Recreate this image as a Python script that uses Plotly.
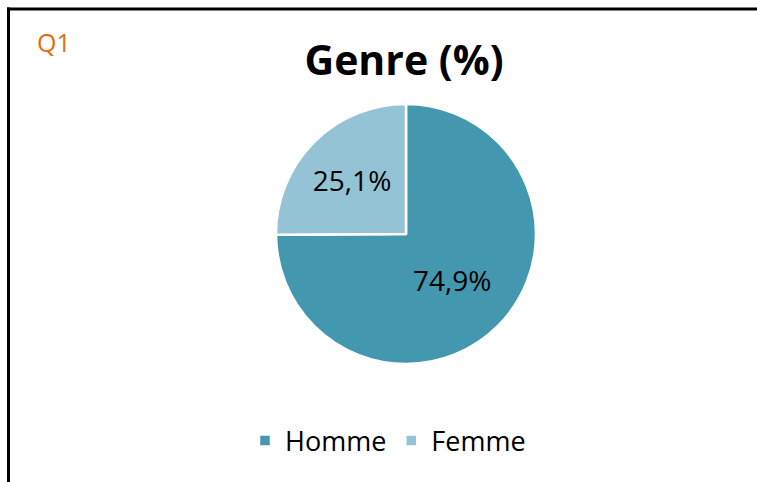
import plotly.graph_objects as go

labels = ["Homme", "Femme"]
values = [74.9, 25.1]
text_labels = ["74,9%", "25,1%"]
colors = ["#4398B0", "#93C3D4"]

W, H = 757, 482

def px(x):
    return x / W

def py(y):
    return 1 - y / H

fig = go.Figure()
fig.add_trace(go.Pie(
    labels=labels,
    values=values,
    text=text_labels,
    textinfo="text",
    textposition="inside",
    insidetextorientation="horizontal",
    textfont=dict(family="Open Sans", size=28, color="#000000"),
    marker=dict(colors=colors, line=dict(color="#FFFFFF", width=2.5)),
    sort=False,
    direction="clockwise",
    rotation=0,
    hoverinfo="label+text",
    domain=dict(x=[px(276), px(536)], y=[py(364), py(104)]),
))

fig.update_layout(
    width=W,
    height=H,
    margin=dict(l=0, r=0, t=0, b=0),
    paper_bgcolor="#FFFFFF",
    plot_bgcolor="#FFFFFF",
    showlegend=True,
    legend=dict(
        orientation="h",
        x=px(388), xanchor="center",
        y=py(441), yanchor="middle",
        font=dict(family="Open Sans", size=27, color="#000000"),
        itemwidth=30,
        tracegroupgap=0,
    ),
    title=dict(
        text="<b>Genre (%)</b>",
        font=dict(family="Open Sans", size=41, color="#000000"),
        x=px(404), xanchor="center",
        y=py(61), yanchor="middle",
    ),
    annotations=[
        dict(text="Q1", x=px(35), y=py(42), xref="paper", yref="paper",
             xanchor="left", yanchor="middle", showarrow=False,
             font=dict(family="Open Sans", size=25, color="#E46C0A")),
    ],
    shapes=[
        dict(type="line", xref="paper", yref="paper",
             x0=px(7), x1=1.0, y0=py(9), y1=py(9),
             line=dict(color="#000000", width=3)),
        dict(type="line", xref="paper", yref="paper",
             x0=px(8.5), x1=px(8.5), y0=py(7.5), y1=0,
             line=dict(color="#000000", width=3)),
    ],
)

fig.write_html(
    "out.html",
    config={"displayModeBar": False},
    post_script="document.body.style.margin='0';document.body.style.padding='0';document.body.style.overflow='hidden';",
)
